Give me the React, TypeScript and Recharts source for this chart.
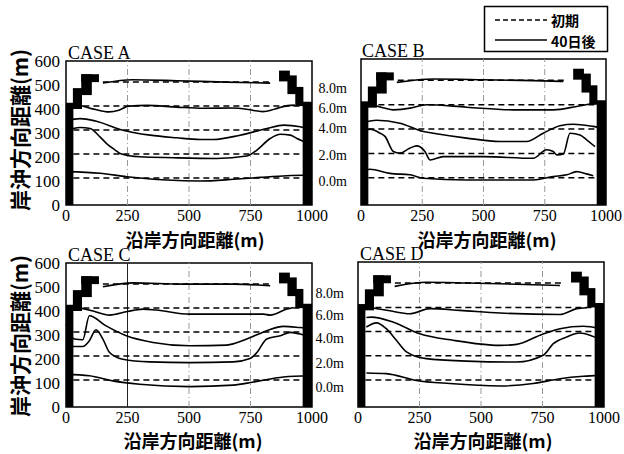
import { LineChart, Line, XAxis, YAxis, ReferenceArea, ReferenceLine } from "recharts";

type Pt = [number, number];

const XTICKS = [0, 250, 500, 750, 1000];
const YTICKS = [0, 100, 200, 300, 400, 500, 600];
const depthLabels = ["0.0m", "2.0m", "4.0m", "6.0m", "8.0m"];
const depthTicksB = [99, 206, 317, 400, 482];
const depthTicksD = [82, 182, 285, 381, 470];

// initial contours (dashed)
const initLevels = [112, 212, 312, 412];
const initTop = 513;

// groins / jetties, [x1, x2, y1, y2]
const structures = [
  [0, 30, 0, 426],
  [28, 65, 400, 487],
  [62, 105, 458, 545],
  [62, 134, 512, 545],
  [962, 1000, 0, 430],
  [932, 965, 412, 492],
  [900, 938, 462, 540],
  [866, 910, 515, 560],
];

// after 40 days, CASE A
const A_0m: Pt[] = [[3, 139], [138, 132], [247, 118], [410, 104], [545, 100], [681, 107], [790, 115], [898, 122], [993, 125]];
const A_2m: Pt[] = [[3, 312], [57, 323], [98, 319], [138, 284], [165, 256], [200, 229], [220, 215], [300, 201], [437, 197], [613, 194], [735, 204], [776, 229], [830, 277], [871, 295], [912, 291], [939, 277], [993, 254]];
const A_4m: Pt[] = [[3, 353], [57, 360], [120, 350], [220, 315], [342, 291], [450, 280], [545, 273], [600, 273], [708, 291], [817, 319], [885, 333], [952, 326], [993, 315]];
const A_6m: Pt[] = [[57, 416], [120, 398], [175, 388], [215, 395], [255, 412], [330, 415], [450, 408], [560, 403], [680, 404], [740, 398], [800, 389], [850, 400], [900, 414], [930, 416]];
const A_8m: Pt[] = [[150, 508], [270, 522], [450, 518], [650, 512], [830, 508]];

// CASE B
const B_0m: Pt[] = [[0, 137], [37, 147], [118, 130], [200, 124], [254, 110], [431, 103], [703, 103], [785, 117], [840, 124], [880, 137], [921, 128], [948, 120]];
const B_2m: Pt[] = [[0, 302], [37, 312], [78, 295], [98, 282], [132, 220], [159, 213], [200, 234], [227, 243], [261, 220], [282, 185], [336, 199], [499, 199], [703, 192], [758, 227], [785, 220], [799, 206], [826, 210], [853, 295], [894, 288], [921, 268], [955, 240]];
const B_4m: Pt[] = [[0, 336], [64, 348], [159, 336], [254, 302], [295, 295], [431, 275], [567, 261], [676, 261], [744, 295], [812, 326], [867, 332], [948, 323], [989, 316]];
const B_6m: Pt[] = [[44, 412], [90, 400], [132, 391], [200, 398], [241, 408], [268, 412], [431, 402], [622, 391], [785, 391], [880, 405], [935, 415]];
const B_8m: Pt[] = [[146, 504], [295, 518], [500, 515], [703, 511], [826, 508]];

// CASE C
const C_0m: Pt[] = [[0, 136], [95, 130], [190, 109], [299, 95], [503, 85], [680, 91], [762, 104], [884, 125], [993, 130]];
const C_2m: Pt[] = [[0, 252], [68, 252], [95, 276], [122, 322], [150, 283], [177, 227], [231, 199], [340, 188], [503, 185], [680, 188], [748, 202], [776, 227], [816, 283], [871, 297], [912, 311], [952, 304], [993, 290]];
const C_4m: Pt[] = [[0, 345], [34, 283], [68, 280], [95, 380], [163, 338], [245, 297], [354, 269], [503, 255], [653, 258], [735, 283], [816, 318], [884, 336], [952, 331], [993, 327]];
const C_6m: Pt[] = [[48, 415], [110, 400], [177, 383], [250, 398], [313, 408], [367, 404], [503, 387], [680, 387], [803, 387], [830, 383], [898, 408], [925, 415]];
const C_8m: Pt[] = [[150, 501], [272, 517], [476, 512], [680, 512], [830, 505]];

// CASE D
const D_0m: Pt[] = [[34, 141], [115, 138], [237, 110], [373, 97], [577, 87], [712, 97], [821, 117], [916, 127], [984, 131]];
const D_2m: Pt[] = [[34, 331], [75, 348], [115, 324], [156, 276], [197, 228], [278, 200], [441, 190], [645, 186], [753, 214], [794, 262], [848, 290], [902, 306], [943, 297], [984, 279]];
const D_4m: Pt[] = [[34, 370], [54, 372], [142, 352], [251, 303], [387, 276], [577, 255], [645, 259], [740, 297], [821, 324], [916, 334], [984, 324]];
const D_6m: Pt[] = [[54, 411], [130, 398], [210, 386], [292, 407], [414, 400], [577, 389], [821, 383], [889, 407], [930, 411]];
const D_8m: Pt[] = [[149, 499], [278, 516], [441, 513], [645, 508], [821, 503]];

const serif = "'Liberation Serif', 'Times New Roman', serif";
const cjk = "'Noto Sans CJK JP', sans-serif";

const toRows = (pts: Pt[]) => pts.map(([x, y]) => ({ x, y }));

interface PanelProps {
  left: number;
  top: number;
  w: number;
  h: number;
  lines: Pt[][];
  depthTicks?: number[];
  solid250?: boolean;
}

function Panel({ left, top, w, h, lines, depthTicks, solid250 }: PanelProps) {
  const dashed: Pt[][] = [
    ...initLevels.map((lv) => [[30, lv], [965, lv]] as Pt[]),
    [[150, initTop], [830, initTop]],
  ];
  return (
    <div style={{ position: "absolute", left: left - 66, top: top - 20 }}>
      <LineChart width={w + 96} height={h + 60} margin={{ top: 20, right: 30, bottom: 10, left: 20 }}>
        <XAxis
          type="number"
          dataKey="x"
          domain={[0, 1000]}
          ticks={XTICKS}
          interval={0}
          tickLine={false}
          axisLine={false}
          height={30}
          tickSize={3}
          tickMargin={2}
          tick={{ fontSize: 16, fill: "#000", fontFamily: serif }}
        />
        {depthTicks ? (
          <YAxis
            type="number"
            domain={[0, 600]}
            ticks={depthTicks}
            interval={0}
            width={46}
            tickLine={false}
            axisLine={false}
            tickSize={0}
            tickMargin={14}
            tickFormatter={(v: number) => depthLabels[depthTicks.indexOf(v)]}
            tick={{ fontSize: 14, fill: "#000", fontFamily: serif }}
          />
        ) : (
          <YAxis
            type="number"
            domain={[0, 600]}
            ticks={YTICKS}
            interval={0}
            width={46}
            tickLine={false}
            axisLine={false}
            tickSize={4}
            tickMargin={2}
            tick={{ fontSize: 17, fill: "#000", fontFamily: serif }}
          />
        )}
        {[250, 500, 750].map((gx) => (
          <ReferenceLine
            key={gx}
            x={gx}
            stroke={solid250 && gx === 250 ? "#222" : "#999"}
            strokeWidth={1}
            strokeDasharray={solid250 && gx === 250 ? undefined : "6 3 1 3"}
          />
        ))}
        {structures.map((s, i) => (
          <ReferenceArea key={"s" + i} x1={s[0]} x2={s[1]} y1={s[2]} y2={s[3]} fill="#000" fillOpacity={1} stroke="none" />
        ))}
        {dashed.map((d, i) => (
          <Line
            key={"d" + i}
            data={toRows(d)}
            dataKey="y"
            type="linear"
            stroke="#000"
            strokeWidth={1.5}
            strokeDasharray="6 4"
            dot={false}
            activeDot={false}
            isAnimationActive={false}
          />
        ))}
        {lines.map((l, i) => (
          <Line
            key={"l" + i}
            data={toRows(l)}
            dataKey="y"
            type="monotone"
            stroke="#000"
            strokeWidth={1.6}
            dot={false}
            activeDot={false}
            isAnimationActive={false}
          />
        ))}
        <ReferenceArea x1={0} x2={1000} y1={0} y2={600} fill="none" stroke="#000" strokeWidth={1.5} />
      </LineChart>
    </div>
  );
}

export default function App() {
  return (
    <div style={{ position: "absolute", left: 0, top: 0, width: 624, height: 454, background: "#fff" }}>
      <Panel left={66} top={61} w={246} h={144} lines={[A_0m, A_2m, A_4m, A_6m, A_8m]} />
      <Panel left={361} top={59} w={245} h={146} lines={[B_0m, B_2m, B_4m, B_6m, B_8m]} depthTicks={depthTicksB} />
      <Panel left={66} top={263} w={246} h={144} lines={[C_0m, C_2m, C_4m, C_6m, C_8m]} solid250 />
      <Panel left={358} top={262} w={246} h={145} lines={[D_0m, D_2m, D_4m, D_6m, D_8m]} depthTicks={depthTicksD} />
      <svg width={624} height={454} style={{ position: "absolute", left: 0, top: 0, pointerEvents: "none" }}>
        <g fontFamily={serif} fontSize={18} fill="#000">
          <text x={68} y={59}>CASE A</text>
          <text x={362} y={57}>CASE B</text>
          <text x={68} y={261}>CASE C</text>
          <text x={360} y={260}>CASE D</text>
        </g>
        <g fontFamily={cjk} fontWeight={700} fontSize={18} fill="#000" textAnchor="middle">
          <text x={195} y={247}>沿岸方向距離(m)</text>
          <text x={487} y={247}>沿岸方向距離(m)</text>
          <text x={193} y={448}>沿岸方向距離(m)</text>
          <text x={483} y={448}>沿岸方向距離(m)</text>
        </g>
        <g fontFamily={cjk} fontWeight={700} fontSize={21} fill="#000" textAnchor="middle" dominantBaseline="central">
          <text transform="translate(19,130) rotate(-90)">岸沖方向距離(m)</text>
          <text transform="translate(19,336) rotate(-90)">岸沖方向距離(m)</text>
        </g>
        <rect x={484.5} y={6.5} width={123} height={45} fill="#fff" stroke="#000" strokeWidth={1.5} />
        <line x1={495} x2={547} y1={20} y2={20} stroke="#000" strokeWidth={1.5} strokeDasharray="5 3" />
        <line x1={495} x2={547} y1={40} y2={40} stroke="#000" strokeWidth={1.5} />
        <g fontFamily={cjk} fontWeight={700} fontSize={14} fill="#000" dominantBaseline="central">
          <text x={551} y={19.5}>初期</text>
          <text x={551} y={40.5}>40日後</text>
        </g>
      </svg>
    </div>
  );
}
